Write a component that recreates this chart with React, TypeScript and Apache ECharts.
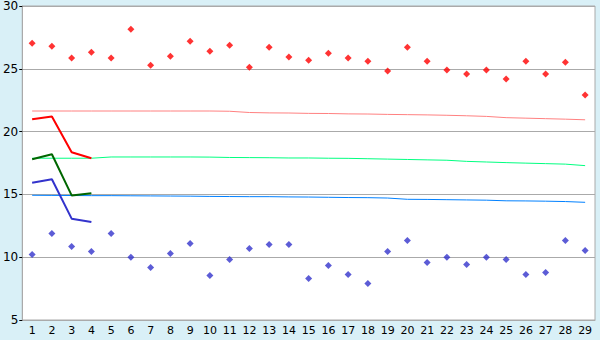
import React, { useEffect, useRef } from "react";
import * as echarts from "echarts";

const categories = Array.from({ length: 29 }, (_, i) => String(i + 1));

const upperPoints = [27.04, 26.8, 25.85, 26.32, 25.85, 28.15, 25.29, 26.0, 27.2, 26.4, 26.88, 25.13, 26.72, 25.93, 25.69, 26.24, 25.85, 25.61, 24.82, 26.72, 25.61, 24.9, 24.58, 24.9, 24.18, 25.61, 24.58, 25.53, 22.91];
const lowerPoints = [10.21, 11.88, 10.85, 10.45, 11.88, 10.0, 9.18, 10.29, 11.09, 8.55, 9.82, 10.69, 11.01, 11.01, 8.31, 9.34, 8.63, 7.91, 10.45, 11.33, 9.58, 10.0, 9.42, 10.0, 9.82, 8.63, 8.79, 11.33, 10.53];

const pinkLine = [21.64, 21.64, 21.64, 21.64, 21.64, 21.64, 21.64, 21.64, 21.64, 21.64, 21.62, 21.52, 21.49, 21.48, 21.45, 21.44, 21.41, 21.4, 21.37, 21.35, 21.33, 21.3, 21.26, 21.21, 21.11, 21.07, 21.03, 20.99, 20.94];
const greenLine = [17.88, 17.88, 17.88, 17.88, 17.98, 17.98, 17.98, 17.98, 17.98, 17.97, 17.94, 17.93, 17.92, 17.9, 17.9, 17.88, 17.87, 17.84, 17.81, 17.78, 17.75, 17.72, 17.63, 17.58, 17.53, 17.49, 17.45, 17.41, 17.29];
const blueLine = [14.93, 14.92, 14.91, 14.9, 14.9, 14.89, 14.88, 14.87, 14.86, 14.84, 14.83, 14.82, 14.82, 14.8, 14.79, 14.77, 14.75, 14.74, 14.71, 14.61, 14.6, 14.58, 14.56, 14.54, 14.49, 14.48, 14.46, 14.43, 14.37];

const redTrend = [20.98, 21.21, 18.36, 17.88];
const greenTrend = [17.8, 18.2, 14.92, 15.1];
const blueTrend = [15.93, 16.21, 13.07, 12.8];

const yTicks = { min: 5, max: 30, interval: 5 };

const pad = (arr: number[]) => categories.map((_, i) => (i < arr.length ? arr[i] : null));

export default function App() {
  const ref = useRef<HTMLDivElement>(null);
  useEffect(() => {
    document.body.style.margin = "0";
    const chart = echarts.init(ref.current!, undefined, { renderer: "svg" });
    const font = "DejaVu Sans, Verdana, sans-serif";
    const thin = (data: number[], color: string) => ({
      type: "line",
      data,
      symbol: "none",
      lineStyle: { color, width: 1 },
      silent: true,
      z: 2,
    });
    const thick = (data: number[], color: string) => ({
      type: "line",
      data: pad(data),
      symbol: "none",
      lineStyle: { color, width: 2 },
      silent: true,
      z: 3,
    });
    chart.setOption({
      animation: false,
      backgroundColor: "#d9f0f7",
      grid: {
        left: 20,
        right: 5,
        top: 5,
        bottom: 20,
        show: true,
        backgroundColor: "#ffffff",
        borderColor: "#aaaaaa",
        borderWidth: 1,
      },
      xAxis: {
        type: "category",
        data: categories,
        boundaryGap: true,
        axisLine: { lineStyle: { color: "#aaaaaa" } },
        axisTick: { alignWithLabel: true, length: 4, lineStyle: { color: "#000" } },
        axisLabel: { color: "#000", fontSize: 11, fontFamily: font, margin: 5, interval: 0 },
        splitLine: { show: false },
      },
      yAxis: {
        type: "value",
        min: yTicks.min,
        max: yTicks.max,
        interval: yTicks.interval,
        axisLine: { show: true, lineStyle: { color: "#aaaaaa" } },
        axisTick: { show: true, length: 3, lineStyle: { color: "#000" } },
        axisLabel: { color: "#000", fontSize: 12, fontFamily: font, margin: 4 },
        splitLine: { show: true, lineStyle: { color: "#aaaaaa", width: 1 } },
      },
      series: [
        thin(pinkLine, "#ff8080"),
        thin(greenLine, "#00ff80"),
        thin(blueLine, "#0080ff"),
        thick(redTrend, "#ff0000"),
        thick(greenTrend, "#006600"),
        thick(blueTrend, "#3333cc"),
        {
          type: "scatter",
          data: upperPoints,
          symbol: "diamond",
          symbolSize: 7,
          itemStyle: { color: "#ff0000" },
          z: 4,
        },
        {
          type: "scatter",
          data: lowerPoints,
          symbol: "diamond",
          symbolSize: 7,
          itemStyle: { color: "#3333cc" },
          z: 4,
        },
      ],
    });
    return () => chart.dispose();
  }, []);
  return <div ref={ref} style={{ width: 600, height: 340 }} />;
}
